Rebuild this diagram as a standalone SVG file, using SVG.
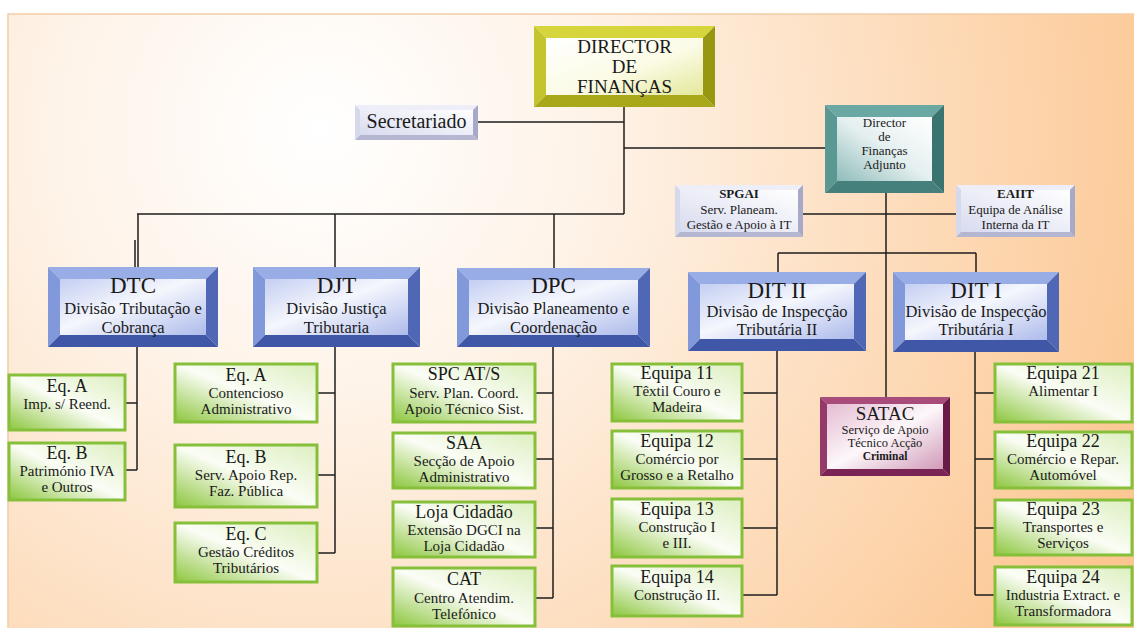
<svg xmlns="http://www.w3.org/2000/svg" width="1134" height="628" viewBox="0 0 1134 628">
<defs>
<radialGradient id="bg" gradientUnits="userSpaceOnUse" cx="320" cy="130" r="900">
<stop offset="0" stop-color="#ffffff"/><stop offset="0.3" stop-color="#fef3e8"/><stop offset="1" stop-color="#fcc690"/>
</radialGradient>
<linearGradient id="gg" x1="0" y1="1" x2="1" y2="0">
<stop offset="0" stop-color="#8cc63e"/><stop offset="0.5" stop-color="#fbfdf6"/><stop offset="1" stop-color="#dcefbf"/>
</linearGradient>
<linearGradient id="gb" x1="0" y1="0" x2="1" y2="1">
<stop offset="0" stop-color="#c4cef2"/><stop offset="0.45" stop-color="#f5f7fd"/><stop offset="1" stop-color="#aebbeb"/>
</linearGradient>
<linearGradient id="gl" x1="1" y1="0" x2="0" y2="1">
<stop offset="0" stop-color="#ffffff"/><stop offset="1" stop-color="#d8dbef"/>
</linearGradient>
<linearGradient id="gy" x1="0" y1="0" x2="1" y2="1">
<stop offset="0" stop-color="#ffffff"/><stop offset="0.55" stop-color="#fbfbe6"/><stop offset="1" stop-color="#e4e89a"/>
</linearGradient>
<linearGradient id="gt" x1="1" y1="0" x2="0" y2="1">
<stop offset="0" stop-color="#ffffff"/><stop offset="0.5" stop-color="#e4efef"/><stop offset="1" stop-color="#8fbcba"/>
</linearGradient>
<linearGradient id="gm" x1="0" y1="0" x2="1" y2="1">
<stop offset="0" stop-color="#e4bcd2"/><stop offset="0.5" stop-color="#fdf7fa"/><stop offset="1" stop-color="#d09ab8"/>
</linearGradient>
<style>
.t{font-family:"Liberation Serif","Times New Roman",serif;fill:#1a1a1a;text-anchor:middle}
.ti{font-size:18px}.s{font-size:15px}
.dt{font-size:23px}.ds{font-size:16.5px}
.ln{stroke:#1e1e1e;stroke-width:1.5;fill:none}
.g{fill:url(#gg);stroke:#86c03a;stroke-width:3}
.blue .t1{fill:#98ace6}.blue .l1{fill:#8198da}.blue .r1{fill:#4f67b4}.blue .b1{fill:#3f57a6}.blue .in{fill:url(#gb)}
.lav .t1{fill:#eeeef8}.lav .l1{fill:#d6d8ec}.lav .r1{fill:#a6a9c8}.lav .b1{fill:#b4b6d2}.lav .in{fill:url(#gl)}
.yel .t1{fill:#d6d63c}.yel .l1{fill:#c4c42e}.yel .r1{fill:#979712}.yel .b1{fill:#a8a81a}.yel .in{fill:url(#gy)}
.tea .t1{fill:#6aa8a4}.tea .l1{fill:#5a9894}.tea .r1{fill:#3a7470}.tea .b1{fill:#46807c}.tea .in{fill:url(#gt)}
.mar .t1{fill:#a84c7c}.mar .l1{fill:#95386a}.mar .r1{fill:#6a1a48}.mar .b1{fill:#7a2456}.mar .in{fill:url(#gm)}
</style>
</defs>
<rect x="0" y="0" width="1134" height="628" fill="#ffffff"/>
<rect x="8" y="14" width="1130" height="620" fill="url(#bg)" stroke="#f2cda6" stroke-width="1.5"/>

<g id="connectors">
<path class="ln" d="M478,122H624M624,107V214M624,148H825M137,214H624M138,214V267M135,240V267M335,214V267M554,214V268"/>
<path class="ln" d="M886,193V397M803,214H956M778,253H976M778,253V272M976,253V272"/>
<path class="ln" d="M137,347V470M125,403H137M125,470H137"/>
<path class="ln" d="M335,347V553M317,393H335M317,475H335M317,553H335"/>
<path class="ln" d="M553,347V598M535,393H553M535,459H553M535,528H553M535,598H553"/>
<path class="ln" d="M777,351V595M742,393H777M742,459H777M742,528H777M742,595H777"/>
<path class="ln" d="M975,352V595M975,393H995M975,459H995M975,528H995M975,595H995"/>
</g>

<g id="director" class="yel">
<polygon class="t1" points="534,26 715,26 703,38 546,38"/>
<polygon class="l1" points="534,26 546,38 546,95 534,107"/>
<polygon class="r1" points="715,26 715,107 703,95 703,38"/>
<polygon class="b1" points="534,107 715,107 703,95 546,95"/>
<rect class="in" x="546" y="38" width="157" height="57"/>
<text class="t" font-size="19" x="624.5" y="53">DIRECTOR</text>
<text class="t" font-size="19" x="624.5" y="73">DE</text>
<text class="t" font-size="19" x="624.5" y="93">FINANÇAS</text>
</g>

<g id="secretariado" class="lav">
<polygon class="t1" points="355,105 478,105 473,110 360,110"/>
<polygon class="l1" points="355,105 360,110 360,135 355,140"/>
<polygon class="r1" points="478,105 478,140 473,135 473,110"/>
<polygon class="b1" points="355,140 478,140 473,135 360,135"/>
<rect class="in" x="360" y="110" width="113" height="25"/>
<text class="t" font-size="20" x="416.5" y="128">Secretariado</text>
</g>

<g id="adjunto" class="tea">
<polygon class="t1" points="825,105 944,105 932,117 837,117"/>
<polygon class="l1" points="825,105 837,117 837,181 825,193"/>
<polygon class="r1" points="944,105 944,193 932,181 932,117"/>
<polygon class="b1" points="825,193 944,193 932,181 837,181"/>
<rect class="in" x="837" y="117" width="95" height="64"/>
<text class="t" font-size="13" x="884.5" y="127">Director</text>
<text class="t" font-size="13" x="884.5" y="141">de</text>
<text class="t" font-size="13" x="884.5" y="155">Finanças</text>
<text class="t" font-size="13" x="884.5" y="169">Adjunto</text>
</g>

<g id="spgai" class="lav">
<polygon class="t1" points="675,185 803,185 798,190 680,190"/>
<polygon class="l1" points="675,185 680,190 680,232 675,237"/>
<polygon class="r1" points="803,185 803,237 798,232 798,190"/>
<polygon class="b1" points="675,237 803,237 798,232 680,232"/>
<rect class="in" x="680" y="190" width="118" height="42"/>
<text class="t" font-size="13" font-weight="bold" x="739" y="198">SPGAI</text>
<text class="t" font-size="13" x="739" y="214">Serv. Planeam.</text>
<text class="t" font-size="13" x="739" y="229">Gestão e Apoio à IT</text>
</g>

<g id="eaiit" class="lav">
<polygon class="t1" points="956,185 1075,185 1070,190 961,190"/>
<polygon class="l1" points="956,185 961,190 961,232 956,237"/>
<polygon class="r1" points="1075,185 1075,237 1070,232 1070,190"/>
<polygon class="b1" points="956,237 1075,237 1070,232 961,232"/>
<rect class="in" x="961" y="190" width="109" height="42"/>
<text class="t" font-size="13" font-weight="bold" x="1015.5" y="198">EAIIT</text>
<text class="t" font-size="13" x="1015.5" y="214">Equipa de Análise</text>
<text class="t" font-size="13" x="1015.5" y="229">Interna da IT</text>
</g>

<g id="dtc" class="blue">
<polygon class="t1" points="48,267 218,267 206,279 60,279"/>
<polygon class="l1" points="48,267 60,279 60,335 48,347"/>
<polygon class="r1" points="218,267 218,347 206,335 206,279"/>
<polygon class="b1" points="48,347 218,347 206,335 60,335"/>
<rect class="in" x="60" y="279" width="146" height="56"/>
<text class="t dt" x="133" y="293">DTC</text>
<text class="t ds" x="133" y="314">Divisão Tributação e</text>
<text class="t ds" x="133" y="333">Cobrança</text>
</g>

<g id="djt" class="blue">
<polygon class="t1" points="253,267 420,267 408,279 265,279"/>
<polygon class="l1" points="253,267 265,279 265,335 253,347"/>
<polygon class="r1" points="420,267 420,347 408,335 408,279"/>
<polygon class="b1" points="253,347 420,347 408,335 265,335"/>
<rect class="in" x="265" y="279" width="143" height="56"/>
<text class="t dt" x="336.5" y="293">DJT</text>
<text class="t ds" x="336.5" y="314">Divisão Justiça</text>
<text class="t ds" x="336.5" y="333">Tributaria</text>
</g>

<g id="dpc" class="blue">
<polygon class="t1" points="457,268 650,268 638,280 469,280"/>
<polygon class="l1" points="457,268 469,280 469,335 457,347"/>
<polygon class="r1" points="650,268 650,347 638,335 638,280"/>
<polygon class="b1" points="457,347 650,347 638,335 469,335"/>
<rect class="in" x="469" y="280" width="169" height="55"/>
<text class="t dt" x="553.5" y="293">DPC</text>
<text class="t ds" x="553.5" y="314">Divisão Planeamento e</text>
<text class="t ds" x="553.5" y="333">Coordenação</text>
</g>

<g id="dit2" class="blue">
<polygon class="t1" points="688,272 866,272 854,284 700,284"/>
<polygon class="l1" points="688,272 700,284 700,339 688,351"/>
<polygon class="r1" points="866,272 866,351 854,339 854,284"/>
<polygon class="b1" points="688,351 866,351 854,339 700,339"/>
<rect class="in" x="700" y="284" width="154" height="55"/>
<text class="t dt" x="777" y="298">DIT II</text>
<text class="t ds" x="777" y="317">Divisão de Inspecção</text>
<text class="t ds" x="777" y="335">Tributária II</text>
</g>

<g id="dit1" class="blue">
<polygon class="t1" points="893,272 1059,272 1047,284 905,284"/>
<polygon class="l1" points="893,272 905,284 905,340 893,352"/>
<polygon class="r1" points="1059,272 1059,352 1047,340 1047,284"/>
<polygon class="b1" points="893,352 1059,352 1047,340 905,340"/>
<rect class="in" x="905" y="284" width="142" height="56"/>
<text class="t dt" x="976" y="298">DIT I</text>
<text class="t ds" x="976" y="317">Divisão de Inspecção</text>
<text class="t ds" x="976" y="335">Tributária I</text>
</g>

<g id="satac" class="mar">
<polygon class="t1" points="820,397 950,397 943,404 827,404"/>
<polygon class="l1" points="820,397 827,404 827,469 820,476"/>
<polygon class="r1" points="950,397 950,476 943,469 943,404"/>
<polygon class="b1" points="820,476 950,476 943,469 827,469"/>
<rect class="in" x="827" y="404" width="116" height="65"/>
<text class="t" font-size="19" x="885" y="420">SATAC</text>
<text class="t" font-size="12.5" x="885" y="434">Serviço de Apoio</text>
<text class="t" font-size="12.5" x="885" y="447">Técnico Acção</text>
<text class="t" font-size="11.5" font-weight="bold" x="885" y="460">Criminal</text>
</g>

<g id="dtc-eqa"><rect class="g" x="9" y="375" width="116" height="55"/>
<text class="t ti" x="67" y="392">Eq. A</text><text class="t s" x="67" y="409">Imp. s/ Reend.</text></g>
<g id="dtc-eqb"><rect class="g" x="9" y="443" width="116" height="57"/>
<text class="t ti" x="67" y="459">Eq. B</text><text class="t s" x="67" y="476">Património IVA</text><text class="t s" x="67" y="492">e Outros</text></g>

<g id="djt-eqa"><rect class="g" x="175" y="364" width="142" height="58"/>
<text class="t ti" x="246" y="381">Eq. A</text><text class="t s" x="246" y="398">Contencioso</text><text class="t s" x="246" y="414">Administrativo</text></g>
<g id="djt-eqb"><rect class="g" x="175" y="445" width="142" height="62"/>
<text class="t ti" x="246" y="463">Eq. B</text><text class="t s" x="246" y="480">Serv. Apoio Rep.</text><text class="t s" x="246" y="496">Faz. Pública</text></g>
<g id="djt-eqc"><rect class="g" x="175" y="523" width="142" height="59"/>
<text class="t ti" x="246" y="540">Eq. C</text><text class="t s" x="246" y="557">Gestão Créditos</text><text class="t s" x="246" y="573">Tributários</text></g>

<g id="spc"><rect class="g" x="393" y="364" width="142" height="58"/>
<text class="t ti" x="464" y="380">SPC AT/S</text><text class="t s" x="464" y="398">Serv. Plan. Coord.</text><text class="t s" x="464" y="414">Apoio Técnico Sist.</text></g>
<g id="saa"><rect class="g" x="393" y="433" width="142" height="55"/>
<text class="t ti" x="464" y="449">SAA</text><text class="t s" x="464" y="466">Secção de Apoio</text><text class="t s" x="464" y="482">Administrativo</text></g>
<g id="loja"><rect class="g" x="393" y="502" width="142" height="55"/>
<text class="t ti" x="464" y="518">Loja Cidadão</text><text class="t s" x="464" y="535">Extensão DGCI na</text><text class="t s" x="464" y="551">Loja Cidadão</text></g>
<g id="cat"><rect class="g" x="393" y="568" width="142" height="58"/>
<text class="t ti" x="464" y="585">CAT</text><text class="t s" x="464" y="603">Centro Atendim.</text><text class="t s" x="464" y="619">Telefónico</text></g>

<g id="eq11"><rect class="g" x="612" y="364" width="130" height="57"/>
<text class="t ti" x="677" y="379">Equipa 11</text><text class="t s" x="677" y="396">Têxtil Couro e</text><text class="t s" x="677" y="412">Madeira</text></g>
<g id="eq12"><rect class="g" x="612" y="431" width="130" height="57"/>
<text class="t ti" x="677" y="447">Equipa 12</text><text class="t s" x="677" y="464">Comércio por</text><text class="t s" x="677" y="480">Grosso e a Retalho</text></g>
<g id="eq13"><rect class="g" x="612" y="499" width="130" height="58"/>
<text class="t ti" x="677" y="515">Equipa 13</text><text class="t s" x="677" y="532">Construção I</text><text class="t s" x="677" y="548">e III.</text></g>
<g id="eq14"><rect class="g" x="612" y="566" width="130" height="50"/>
<text class="t ti" x="677" y="583">Equipa 14</text><text class="t s" x="677" y="600">Construção II.</text></g>

<g id="eq21"><rect class="g" x="995" y="364" width="137" height="58"/>
<text class="t ti" x="1063" y="379">Equipa 21</text><text class="t s" x="1063" y="396">Alimentar I</text></g>
<g id="eq22"><rect class="g" x="995" y="432" width="137" height="56"/>
<text class="t ti" x="1063" y="447">Equipa 22</text><text class="t s" x="1063" y="464">Comércio e Repar.</text><text class="t s" x="1063" y="480">Automóvel</text></g>
<g id="eq23"><rect class="g" x="995" y="500" width="137" height="55"/>
<text class="t ti" x="1063" y="515">Equipa 23</text><text class="t s" x="1063" y="532">Transportes e</text><text class="t s" x="1063" y="548">Serviços</text></g>
<g id="eq24"><rect class="g" x="995" y="567" width="137" height="58"/>
<text class="t ti" x="1063" y="583">Equipa 24</text><text class="t s" x="1063" y="600">Industria Extract. e</text><text class="t s" x="1063" y="616">Transformadora</text></g>
</svg>
